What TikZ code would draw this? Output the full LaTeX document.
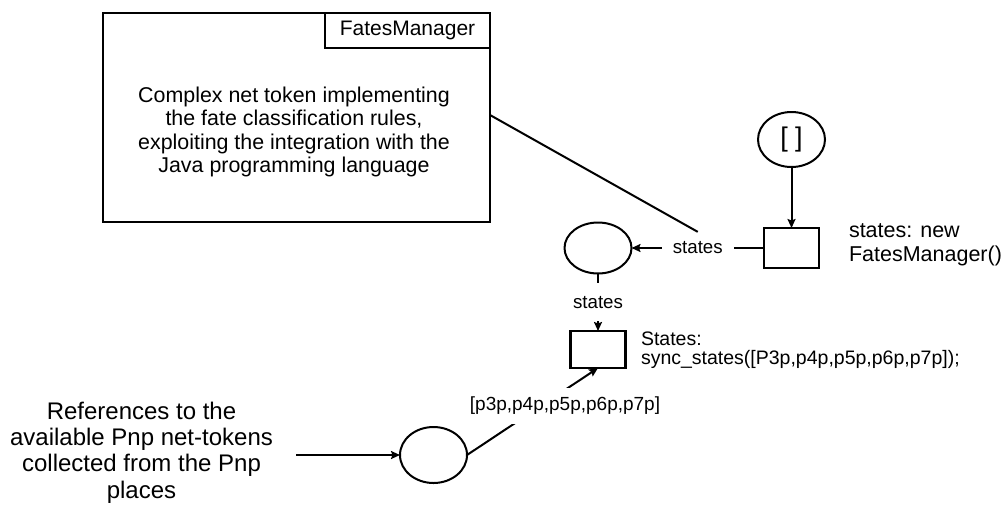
\documentclass[tikz,border=0pt]{standalone}
\usepackage{fontspec}
\setmainfont{Liberation Sans}
\usetikzlibrary{arrows.meta,shapes.geometric}
\begin{document}
\begin{tikzpicture}[x=1pt,y=-1pt,
  every node/.style={inner sep=0pt,outer sep=0pt},
  place/.style={draw,ellipse,line width=2pt,minimum width=67pt},
  trans/.style={draw,rectangle,line width=2.4pt,minimum width=55pt},
  conn/.style={line width=2pt},
  arr/.style={conn,-{Stealth[length=9pt,width=8pt,inset=1.5pt]}},
  lbl/.style={fill=white,font=\fontsize{18.7}{20}\selectfont,inner xsep=11pt,inner ysep=10pt},
]
\useasboundingbox (0,0) rectangle (1003,507);

% complex token box
\node[draw,line width=2.4pt,minimum width=387pt,minimum height=209pt] (fm) at (296.5,117.5) {};
\node[draw,line width=2.4pt,minimum width=165pt,minimum height=35pt,anchor=north east,
      font=\fontsize{21}{23}\selectfont] (fmh) at (fm.north east) {FatesManager};
\node[align=center,font=\fontsize{21.4}{23.5}\selectfont] (fmt) at (294,132)
  {Complex net token implementing\\the fate classification rules,\\exploiting the integration with the\\Java programming language};

% places and transitions
\node[place,minimum height=55pt,font=\fontsize{27}{29}\selectfont] (P0) at (791.5,139.5) {[ ]};
\node[trans,minimum height=40pt] (T1) at (791.5,248) {};
\node[place,minimum height=51pt] (P1) at (598,248) {};
\node[trans,minimum height=37pt] (T2) at (598,349.5) {};
\node[place,minimum height=56pt] (P2) at (433.5,455) {};

% inscriptions
\node[anchor=west,align=left,font=\fontsize{21.5}{24}\selectfont] (T1i) at (849,245)
  {states: new\\FatesManager()};
\node[anchor=west,align=left,font=\fontsize{19.5}{19.5}\selectfont] (T2i) at (641,350)
  {States:\\sync\_states([P3p,p4p,p5p,p6p,p7p]);};
\node[align=center,font=\fontsize{24}{26.2}\selectfont] (refs) at (141.5,452.5)
  {References to the\\available Pnp net-tokens\\collected from the Pnp\\places};
\coordinate (refsarc) at (296,455);

% arcs
\draw[arr] (P0) -- (T1);
\draw[arr] (T1) -- node[lbl] (s1) {states} (P1);
\draw[conn] (fm.east |- 0,115) -- (s1.north);
\draw[arr] (P1) -- node[lbl,inner ysep=13pt] (s2) {states} (T2);
\draw[arr] (P2.east) -- (T2.south);
\node[fill=white,font=\fontsize{19}{20}\selectfont,inner xsep=4pt,inner ysep=9pt] (s3) at (565,406)
  {[p3p,p4p,p5p,p6p,p7p]};
\draw[arr] (refsarc) -- (P2);
\end{tikzpicture}
\end{document}
